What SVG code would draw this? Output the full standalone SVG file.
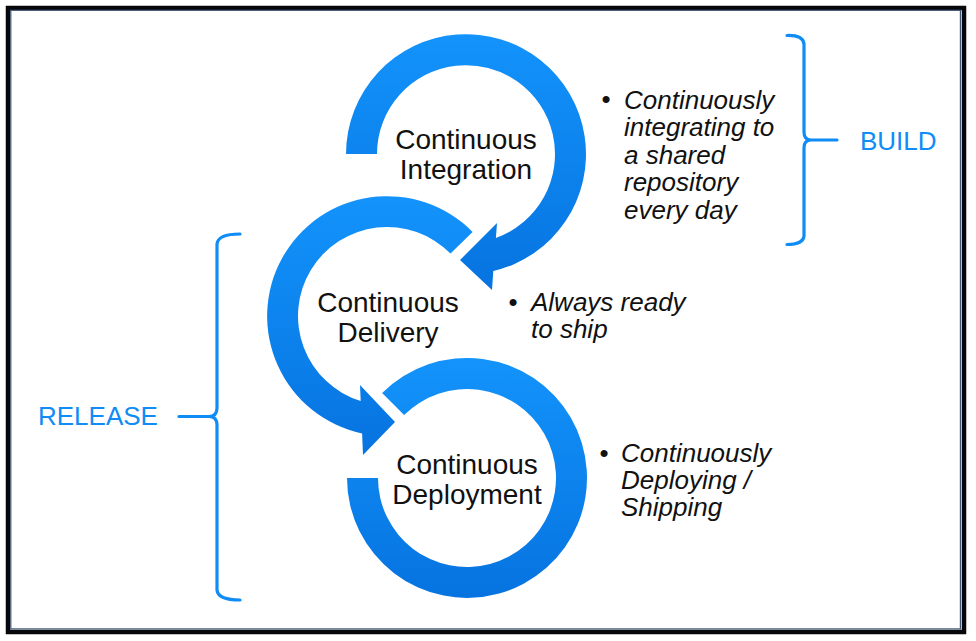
<svg xmlns="http://www.w3.org/2000/svg" width="976" height="641" viewBox="0 0 976 641">
  <defs>
    <linearGradient id="ringGrad" x1="0" y1="0" x2="0" y2="1">
      <stop offset="0" stop-color="#1393fb"/>
      <stop offset="1" stop-color="#0673e0"/>
    </linearGradient>
    <style>
      .ring { fill: url(#ringGrad); }
      .label { font-family: "Liberation Sans", Arial, sans-serif; font-size: 28px; fill: #111; text-anchor: middle; }
      .note { font-family: "Liberation Sans", Arial, sans-serif; font-size: 26px; font-style: italic; fill: #111; }
      .bullet { font-family: "Liberation Sans", Arial, sans-serif; font-size: 26px; fill: #111; text-anchor: middle; }
      .tag { font-family: "Liberation Sans", Arial, sans-serif; font-size: 26px; fill: #0f8cf5; }
      .brace { fill: none; stroke: #0f8cf5; stroke-width: 3.2; stroke-linecap: round; stroke-linejoin: round; }
    </style>
  </defs>

  <rect x="0" y="0" width="976" height="641" fill="#ffffff"/>
  <g id="frame">
    <rect x="8" y="8" width="956" height="624" fill="#ffffff" stroke="#05070a" stroke-width="4.5"/>
    <rect x="10.8" y="10.3" width="949.6" height="618.6" fill="none" stroke="#3e5474" stroke-width="1.2"/>
  </g>

  <g id="ci">
    <path class="ring" d="M346,154 A120,120 0 1 1 493.3,271 L492,290 L460,260 L497,223 L495.9,238 A89,89 0 1 0 377,154 Z"/>
    <text class="label" x="466" y="149">Continuous</text>
    <text class="label" x="466" y="179">Integration</text>
  </g>

  <g id="cd">
    <path class="ring" d="M472.6,231.9 A120,120 0 1 0 362.1,433.5 L363,455 L395,422 L360,385 L360.7,401 A89,89 0 1 1 450.5,253.6 Z"/>
    <text class="label" x="388" y="312">Continuous</text>
    <text class="label" x="388" y="342">Delivery</text>
  </g>

  <g id="cdep">
    <path class="ring" d="M382.1,393.1 A120,120 0 1 1 347,478 L378,478 A89,89 0 1 0 404.1,415.1 Z"/>
    <text class="label" x="467" y="474">Continuous</text>
    <text class="label" x="467" y="504">Deployment</text>
  </g>

  <g id="note-ci">
    <text class="bullet" x="606" y="108">•</text>
    <text class="note" x="624" y="108.5">Continuously</text>
    <text class="note" x="624" y="136">integrating to</text>
    <text class="note" x="624" y="163.5">a shared</text>
    <text class="note" x="624" y="191">repository</text>
    <text class="note" x="624" y="218.5">every day</text>
  </g>

  <g id="note-cd">
    <text class="bullet" x="513" y="311">•</text>
    <text class="note" x="531" y="311">Always ready</text>
    <text class="note" x="531" y="338">to ship</text>
  </g>

  <g id="note-cdep">
    <text class="bullet" x="604" y="461.5">•</text>
    <text class="note" x="621" y="461.5">Continuously</text>
    <text class="note" x="621" y="489">Deploying /</text>
    <text class="note" x="621" y="516">Shipping</text>
  </g>

  <g id="build">
    <path class="brace" d="M787,35.5 Q803,35 804,44 L804,132 Q804,140 811,140 L837,140 M811,140 Q804,140 804,148 L804,236 Q803,244.5 787,244.5"/>
    <text class="tag" x="860" y="150">BUILD</text>
  </g>

  <g id="release">
    <path class="brace" d="M240,234 Q218,234 217,244 L217,408 Q217,416.5 209,416.5 L179,416.5 M209,416.5 Q217,416.5 217,425 L217,590 Q218,600 240,600"/>
    <text class="tag" x="38" y="425">RELEASE</text>
  </g>
</svg>
